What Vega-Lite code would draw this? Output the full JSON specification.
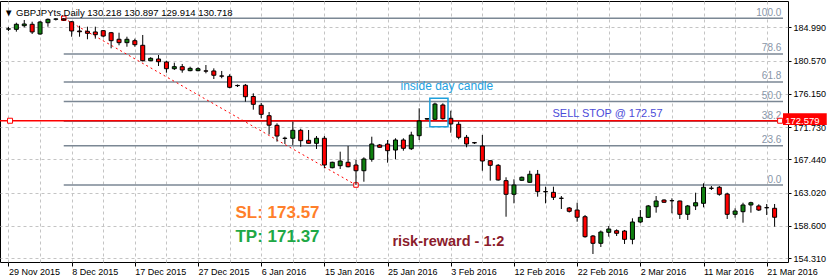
{
"$schema": "https://vega.github.io/schema/vega-lite/v6.json",
"width": 788, "height": 261,
"autosize": {"type": "none"},
"padding": {"left": 0, "top": 1, "right": 44, "bottom": 17},
"background": "white",
"config": {"view": {"stroke": "#000000", "strokeWidth": 1}, "font": "Liberation Sans", "axis": {"labelFont": "Liberation Sans", "labelFontSize": 9, "labelColor": "#000000"}},
"title": {"text": "▼ GBPJPYts,Daily  130.218 130.897 129.914 130.718", "anchor": "start", "frame": "group", "orient": "top", "offset": -16, "dx": 4, "fontSize": 9.5, "fontWeight": "normal", "color": "#000000", "font": "Liberation Sans"},
"datasets": {
"candles": [
{"k":0,"o":184.75,"h":185.03,"l":184.50,"c":184.78},
{"k":1,"o":184.72,"h":185.60,"l":184.41,"c":185.39},
{"k":2,"o":185.20,"h":185.96,"l":184.99,"c":185.43},
{"k":3,"o":185.39,"h":185.73,"l":184.10,"c":184.37},
{"k":4,"o":184.10,"h":185.83,"l":184.01,"c":185.69},
{"k":5,"o":185.60,"h":186.16,"l":185.07,"c":186.05},
{"k":6,"o":186.06,"h":186.19,"l":185.89,"c":186.10},
{"k":7,"o":186.12,"h":186.19,"l":185.85,"c":185.96},
{"k":8,"o":185.73,"h":185.83,"l":183.74,"c":184.50},
{"k":9,"o":184.50,"h":185.20,"l":183.74,"c":184.40},
{"k":10,"o":184.46,"h":185.07,"l":183.40,"c":184.19},
{"k":11,"o":184.37,"h":185.07,"l":183.48,"c":184.01},
{"k":12,"o":184.54,"h":184.63,"l":183.66,"c":183.83},
{"k":13,"o":184.27,"h":184.37,"l":182.20,"c":183.21},
{"k":14,"o":183.40,"h":184.27,"l":182.60,"c":182.95},
{"k":15,"o":182.95,"h":183.74,"l":182.41,"c":183.40},
{"k":16,"o":183.21,"h":183.48,"l":182.41,"c":182.68},
{"k":17,"o":182.60,"h":183.97,"l":180.45,"c":180.55},
{"k":18,"o":180.55,"h":181.01,"l":180.51,"c":180.87},
{"k":19,"o":180.78,"h":181.31,"l":179.85,"c":180.42},
{"k":20,"o":180.38,"h":180.55,"l":178.96,"c":179.49},
{"k":21,"o":179.49,"h":180.29,"l":179.32,"c":179.76},
{"k":22,"o":179.76,"h":180.12,"l":178.96,"c":179.32},
{"k":23,"o":179.23,"h":179.76,"l":179.15,"c":179.54},
{"k":24,"o":179.23,"h":179.68,"l":179.15,"c":179.49},
{"k":25,"o":179.20,"h":179.98,"l":178.88,"c":179.17},
{"k":26,"o":179.19,"h":179.54,"l":178.12,"c":178.62},
{"k":27,"o":178.53,"h":179.19,"l":178.22,"c":178.50},
{"k":28,"o":178.48,"h":178.75,"l":176.89,"c":177.02},
{"k":29,"o":177.27,"h":177.39,"l":177.06,"c":177.24},
{"k":30,"o":177.29,"h":177.46,"l":175.11,"c":175.77},
{"k":31,"o":175.80,"h":176.22,"l":174.05,"c":174.76},
{"k":32,"o":174.63,"h":174.94,"l":172.90,"c":173.43},
{"k":33,"o":173.25,"h":173.74,"l":170.75,"c":171.99},
{"k":34,"o":171.97,"h":172.24,"l":169.80,"c":170.55},
{"k":35,"o":170.26,"h":170.46,"l":169.49,"c":170.23},
{"k":36,"o":170.25,"h":172.45,"l":169.36,"c":171.31},
{"k":37,"o":171.31,"h":171.52,"l":169.13,"c":169.93},
{"k":38,"o":169.98,"h":171.35,"l":169.56,"c":169.58},
{"k":39,"o":169.58,"h":170.55,"l":168.83,"c":170.25},
{"k":40,"o":170.25,"h":170.55,"l":166.26,"c":166.70},
{"k":41,"o":166.34,"h":167.14,"l":166.26,"c":167.06},
{"k":42,"o":166.61,"h":168.47,"l":166.17,"c":167.23},
{"k":43,"o":167.06,"h":169.22,"l":166.39,"c":166.47},
{"k":44,"o":166.70,"h":167.37,"l":164.04,"c":165.94},
{"k":45,"o":165.94,"h":167.72,"l":164.48,"c":167.50},
{"k":46,"o":167.46,"h":170.46,"l":167.14,"c":169.49},
{"k":47,"o":169.36,"h":169.49,"l":169.03,"c":169.05},
{"k":48,"o":169.49,"h":170.02,"l":167.01,"c":168.60},
{"k":49,"o":168.69,"h":170.25,"l":167.46,"c":170.02},
{"k":50,"o":170.02,"h":170.25,"l":168.60,"c":168.92},
{"k":51,"o":168.86,"h":171.12,"l":168.69,"c":170.68},
{"k":52,"o":170.59,"h":174.23,"l":170.02,"c":172.55},
{"k":53,"o":172.80,"h":172.90,"l":172.68,"c":172.86},
{"k":54,"o":172.77,"h":174.98,"l":172.68,"c":174.80},
{"k":55,"o":174.67,"h":174.89,"l":172.72,"c":172.85},
{"k":56,"o":172.90,"h":173.91,"l":170.99,"c":172.15},
{"k":57,"o":172.11,"h":172.45,"l":170.12,"c":170.38},
{"k":58,"o":170.38,"h":170.69,"l":169.05,"c":169.49},
{"k":59,"o":169.67,"h":169.76,"l":169.49,"c":169.64},
{"k":60,"o":169.22,"h":170.69,"l":165.94,"c":167.23},
{"k":61,"o":167.27,"h":167.30,"l":164.62,"c":166.66},
{"k":62,"o":166.66,"h":166.83,"l":164.62,"c":164.71},
{"k":63,"o":164.62,"h":165.07,"l":159.83,"c":162.81},
{"k":64,"o":162.81,"h":164.80,"l":161.61,"c":164.04},
{"k":65,"o":164.67,"h":165.17,"l":164.58,"c":165.07},
{"k":66,"o":164.40,"h":165.94,"l":164.35,"c":165.47},
{"k":67,"o":165.47,"h":166.04,"l":162.49,"c":163.16},
{"k":68,"o":163.17,"h":163.82,"l":161.61,"c":163.14},
{"k":69,"o":163.07,"h":163.82,"l":162.05,"c":162.41},
{"k":70,"o":162.29,"h":162.58,"l":160.86,"c":162.27},
{"k":71,"o":160.99,"h":161.12,"l":160.39,"c":160.55},
{"k":72,"o":160.72,"h":161.69,"l":159.17,"c":159.76},
{"k":73,"o":159.83,"h":160.06,"l":157.04,"c":157.18},
{"k":74,"o":157.27,"h":157.40,"l":154.88,"c":156.30},
{"k":75,"o":156.30,"h":158.00,"l":155.81,"c":157.80},
{"k":76,"o":157.76,"h":158.60,"l":157.18,"c":158.20},
{"k":77,"o":157.97,"h":158.16,"l":157.27,"c":157.63},
{"k":78,"o":157.93,"h":158.07,"l":156.21,"c":156.83},
{"k":79,"o":156.83,"h":159.62,"l":156.17,"c":159.13},
{"k":80,"o":159.13,"h":160.72,"l":158.96,"c":159.75},
{"k":81,"o":159.75,"h":161.39,"l":159.66,"c":161.26},
{"k":82,"o":161.16,"h":162.58,"l":160.37,"c":161.92},
{"k":83,"o":162.05,"h":162.14,"l":161.69,"c":161.75},
{"k":84,"o":161.97,"h":162.28,"l":160.29,"c":161.95},
{"k":85,"o":161.92,"h":161.96,"l":159.53,"c":160.15},
{"k":86,"o":160.15,"h":161.39,"l":159.40,"c":161.26},
{"k":87,"o":161.26,"h":163.02,"l":160.72,"c":161.69},
{"k":88,"o":161.61,"h":164.27,"l":161.08,"c":163.74},
{"k":89,"o":163.62,"h":163.91,"l":163.38,"c":163.60},
{"k":90,"o":163.74,"h":163.91,"l":162.62,"c":162.81},
{"k":91,"o":162.85,"h":163.02,"l":159.53,"c":160.15},
{"k":92,"o":160.15,"h":160.95,"l":159.70,"c":160.59},
{"k":93,"o":160.50,"h":161.69,"l":159.04,"c":161.39},
{"k":94,"o":161.39,"h":161.82,"l":160.37,"c":161.69},
{"k":95,"o":161.26,"h":161.48,"l":160.59,"c":160.72},
{"k":96,"o":161.04,"h":161.52,"l":160.06,"c":161.02},
{"k":97,"o":160.95,"h":161.52,"l":158.51,"c":159.76}
],
"fibs": [
{"lv":"100.0","k":7,"p":186.19},
{"lv":"78.6","k":7,"p":181.45},
{"lv":"61.8","k":7,"p":177.73},
{"lv":"50.0","k":7,"p":175.12},
{"lv":"38.2","k":7,"p":172.50},
{"lv":"23.6","k":7,"p":169.27},
{"lv":"0.0","k":7,"p":164.04}
],
"trend": [{"k":7,"p":186.19},{"k":44,"p":164.04}],
"stop": [{"p":172.579,"t":"172.579"}],
"stopHandles": [{"k":0.2,"p":172.579},{"k":97.7,"p":172.579}],
"box": [{"k0":53.35,"k1":55.65,"p0":175.56,"p1":171.79}]
},
"layer": [
{"data":{"name":"fibs"},"mark":{"type":"rule","color":"#7b8794","strokeWidth":1.5},
 "encoding":{"x":{"field":"k","type":"quantitative","scale":{"domain":[-0.4375,98.0625],"nice":false,"zero":false},"axis":null},
 "x2":{"datum":98.0625},
 "y":{"field":"p","type":"quantitative","scale":{"domain":[153.817,188.483],"nice":false,"zero":false},"axis":null}}},
{"data":{"name":"fibs"},"mark":{"type":"text","color":"#8896a8","fontSize":10,"align":"right","baseline":"alphabetic","dy":-2.5},
 "encoding":{"x":{"datum":97.85,"type":"quantitative","axis":null},
 "y":{"field":"p","type":"quantitative","axis":null},"text":{"field":"lv"}}},
{"data":{"name":"trend"},"mark":{"type":"line","color":"#ff0000","strokeWidth":1,"strokeDash":[2,3]},
 "encoding":{"x":{"field":"k","type":"quantitative","axis":null},"y":{"field":"p","type":"quantitative","axis":null}}},
{"data":{"name":"trend"},"mark":{"type":"point","shape":"square","size":20,"filled":false,"fill":"#ffffff","fillOpacity":1,"color":"#ff0000","strokeWidth":1,"opacity":1},
 "encoding":{"x":{"field":"k","type":"quantitative","axis":null},"y":{"field":"p","type":"quantitative","axis":null}}},
{"data":{"name":"stop"},"mark":{"type":"rule","color":"#ff0000","strokeWidth":1.5},
 "encoding":{"y":{"field":"p","type":"quantitative","axis":null}}},
{"data":{"name":"candles"},"mark":{"type":"rule","color":"#000000","strokeWidth":1},
 "encoding":{"x":{"field":"k","type":"quantitative",
   "axis":{"orient":"bottom","values":[0,4,8,12,16,20,24,28,32,36,40,44,48,52,56,60,64,68,72,76,80,84,88,92,96],"grid":true,"gridDash":[3,3],"gridColor":"#c4c4c4","labels":false,"ticks":false,"domain":false,"title":null}},
 "y":{"field":"l","type":"quantitative",
   "axis":{"orient":"right","values":[154.31,158.6,163.02,167.44,171.73,176.15,180.57,184.99],"format":".3f","grid":true,"gridDash":[3,3],"gridColor":"#c4c4c4","tickSize":3,"tickColor":"#000000","labelPadding":2,"domain":false,"title":null,"labelBaseline":"middle"}},
 "y2":{"field":"h"}}},
{"data":{"name":"candles"},"mark":{"type":"bar","width":4,"stroke":"#000000","strokeWidth":1},
 "encoding":{"x":{"field":"k","type":"quantitative",
   "axis":{"orient":"bottom","values":[0,8,16,24,32,40,48,56,64,72,80,88,96],"labelExpr":"['29 Nov 2015','8 Dec 2015','17 Dec 2015','27 Dec 2015','6 Jan 2016','15 Jan 2016','25 Jan 2016','3 Feb 2016','12 Feb 2016','22 Feb 2016','2 Mar 2016','11 Mar 2016','21 Mar 2016'][round(datum.value/8)]","grid":false,"domain":false,"tickSize":4,"tickColor":"#000000","labelAlign":"left","labelPadding":1,"labelFlush":false,"labelOverlap":false,"labelBound":false,"title":null}},
 "y":{"field":"o","type":"quantitative","axis":null},"y2":{"field":"c"},
 "fill":{"condition":{"test":"datum.c >= datum.o","value":"#0f7f0f"},"value":"#ff0000"}}},
{"data":{"name":"stopHandles"},"mark":{"type":"point","shape":"square","size":25,"filled":false,"fill":"#ffffff","fillOpacity":1,"color":"#ff0000","strokeWidth":1,"opacity":1},
 "encoding":{"x":{"field":"k","type":"quantitative","axis":null},"y":{"field":"p","type":"quantitative","axis":null}}},
{"data":{"name":"box"},"mark":{"type":"rect","fillOpacity":0,"stroke":"#1ea0dc","strokeWidth":1.5},
 "encoding":{"x":{"field":"k0","type":"quantitative","axis":null},"x2":{"field":"k1"},"y":{"field":"p0","type":"quantitative","axis":null},"y2":{"field":"p1"}}},
{"data":{"values":[{"t":"inside day candle","k":55.5,"p":177.19}]},"mark":{"type":"text","color":"#1e9fe0","fontSize":12,"align":"center","baseline":"middle"},
 "encoding":{"x":{"field":"k","type":"quantitative","axis":null},"y":{"field":"p","type":"quantitative","axis":null},"text":{"field":"t"}}},
{"data":{"values":[{"t":"SELL STOP @ 172.57","k":75.84,"p":173.47}]},"mark":{"type":"text","color":"#4b4bd9","fontSize":11,"align":"center","baseline":"middle"},
 "encoding":{"x":{"field":"k","type":"quantitative","axis":null},"y":{"field":"p","type":"quantitative","axis":null},"text":{"field":"t"}}},
{"data":{"values":[{"t":"SL: 173.57","k":34.06,"p":160.27}]},"mark":{"type":"text","color":"#ff7f2a","fontSize":17,"fontWeight":"bold","align":"center","baseline":"middle"},
 "encoding":{"x":{"field":"k","type":"quantitative","axis":null},"y":{"field":"p","type":"quantitative","axis":null},"text":{"field":"t"}}},
{"data":{"values":[{"t":"TP: 171.37","k":34.06,"p":157.11}]},"mark":{"type":"text","color":"#1fa846","fontSize":17,"fontWeight":"bold","align":"center","baseline":"middle"},
 "encoding":{"x":{"field":"k","type":"quantitative","axis":null},"y":{"field":"p","type":"quantitative","axis":null},"text":{"field":"t"}}},
{"data":{"values":[{"t":"risk-reward - 1:2","k":55.7,"p":156.41}]},"mark":{"type":"text","color":"#8b1c2c","fontSize":14.5,"fontWeight":"bold","align":"center","baseline":"middle"},
 "encoding":{"x":{"field":"k","type":"quantitative","axis":null},"y":{"field":"p","type":"quantitative","axis":null},"text":{"field":"t"}}},
{"data":{"name":"stop"},"mark":{"type":"rect","fill":"#ff0000"},
 "encoding":{"x":{"datum":98.0625,"type":"quantitative","axis":null},"x2":{"datum":103.6},"y":{"datum":173.57,"type":"quantitative","axis":null},"y2":{"datum":172.01}}},
{"data":{"name":"stop"},"mark":{"type":"text","color":"#ffffff","fontSize":9.5,"align":"left","baseline":"middle"},
 "encoding":{"x":{"datum":98.35,"type":"quantitative","axis":null},"y":{"field":"p","type":"quantitative","axis":null},"text":{"field":"t"}}}
],
"resolve": {"axis": {"x": "independent", "y": "independent"}}
}
